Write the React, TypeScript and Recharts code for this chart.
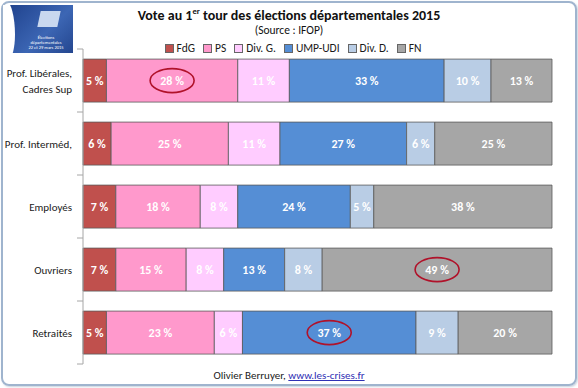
import React from 'react';
import { BarChart, Bar, XAxis, YAxis, LabelList } from 'recharts';

const categories = ['Prof. Libérales,\nCadres Sup', 'Prof. Interméd,', 'Employés', 'Ouvriers', 'Retraités'];
const fdg = [5, 6, 7, 7, 5];
const ps = [28, 25, 18, 15, 23];
const divG = [11, 11, 8, 8, 6];
const umpUdi = [33, 27, 24, 13, 37];
const divD = [10, 6, 5, 8, 9];
const fn = [13, 25, 38, 49, 20];

const seriesNames = ['FdG', 'PS', 'Div. G.', 'UMP-UDI', 'Div. D.', 'FN'];
const seriesKeys = ['fdg', 'ps', 'divG', 'umpUdi', 'divD', 'fn'];
const seriesValues = [fdg, ps, divG, umpUdi, divD, fn];
const colors = ['#C0504D', '#FF99CC', '#FFCCFF', '#558ED5', '#B9CDE5', '#A6A6A6'];

// cells circled in red: [series key, category index]
const highlights: [string, number][] = [['ps', 0], ['fn', 3], ['umpUdi', 4]];

const data = categories.map((cat, i) => {
    const row: Record<string, string | number> = { cat };
    seriesKeys.forEach((k, j) => (row[k] = seriesValues[j][i]));
    return row;
});

const FONT = "Carlito, 'Liberation Sans Narrow', 'Open Sans', sans-serif";
const BAND = 63;
const AXIS_X = 83;

const CatTick = (props: any) => {
    const { y, payload, index } = props;
    const lines = String(payload.value).split('\n');
    const tx = AXIS_X - 11;
    return (
        <g>
            <line x1={AXIS_X - 6} x2={AXIS_X} y1={y - BAND / 2} y2={y - BAND / 2} stroke="#A6A6A6" />
            {index === categories.length - 1 && (
                <line x1={AXIS_X - 6} x2={AXIS_X} y1={y + BAND / 2} y2={y + BAND / 2} stroke="#A6A6A6" />
            )}
            <text x={tx} y={y} textAnchor="end" fontSize={11} fill="#1a1a1a" fontFamily={FONT}>
                {lines.map((l, i) => (
                    <tspan key={i} x={tx} dy={i === 0 ? (lines.length === 1 ? 4 : -4) : 16}>
                        {l}
                    </tspan>
                ))}
            </text>
        </g>
    );
};

const makeLabel = (key: string) => (props: any) => {
    const { x, y, width, height, value, index } = props;
    const cx = x + width / 2;
    const cy = y + height / 2;
    const circled = highlights.some(([k, i]) => k === key && i === index);
    return (
        <g>
            {circled && (
                <ellipse cx={cx} cy={cy} rx={22} ry={12} fill="none" stroke="#B0122A" strokeWidth={1.6} />
            )}
            <text x={cx} y={cy + 4} textAnchor="middle" fontSize={12} fontWeight="bold" fill="#fff" fontFamily={FONT}>
                {value} %
            </text>
        </g>
    );
};

const LegendBox = () => (
    <div
        style={{
            position: 'absolute',
            top: 41,
            left: 0,
            width: 578,
            display: 'flex',
            justifyContent: 'center',
            gap: 8,
            fontFamily: FONT,
            fontSize: 11.5,
            color: '#1a1a1a',
            paddingLeft: 8,
            boxSizing: 'border-box',
        }}
    >
        {seriesNames.map((n, i) => (
            <span key={n} style={{ display: 'flex', alignItems: 'center' }}>
                <span
                    style={{
                        display: 'inline-block',
                        width: 7,
                        height: 7,
                        background: colors[i],
                        border: '1px solid #666',
                        marginRight: 3,
                    }}
                />
                {n}
            </span>
        ))}
    </div>
);

const App: React.FC = () => {
    return (
        <div style={{ position: 'absolute', left: 0, top: 0, width: 578, height: 388, background: '#fff', fontFamily: FONT }}>
            {/* frame */}
            <div
                style={{
                    position: 'absolute',
                    left: 1,
                    top: 1,
                    width: 572,
                    height: 381,
                    border: '2px solid #9FB4CE',
                    borderRadius: 8,
                    boxShadow: '1px 1px 2px #c8d2de',
                }}
            />

            {/* logo */}
            <div
                style={{
                    position: 'absolute',
                    left: 3,
                    top: 5,
                    width: 70,
                    height: 48,
                    background: 'linear-gradient(135deg, #1d3f8a 0%, #3c66b4 60%, #24468f 100%)',
                    color: '#fff',
                    fontSize: 4.5,
                    lineHeight: '5px',
                    textAlign: 'center',
                    overflow: 'hidden',
                }}
            >
                <div style={{ position: 'absolute', left: -4, top: -4, width: 16, height: 58, background: '#fff', borderRadius: '0 70% 50% 0' }} />
                <div style={{ position: 'absolute', left: 36, top: 6, width: 20, height: 16, background: '#c9d8ef', transform: 'skewX(-12deg)' }} />
                <div style={{ position: 'absolute', left: 16, top: 30, width: 54 }}>
                    Élections<br />départementales<br />22 et 29 mars 2015
                </div>
            </div>

            {/* titles */}
            <div style={{ position: 'absolute', top: 5, left: 0, width: 578, textAlign: 'center' }}>
                <span style={{ fontSize: 14, fontWeight: 'bold', color: '#111' }}>
                    Vote au 1<sup style={{ fontSize: 8.5 }}>er</sup> tour des élections départementales 2015
                </span>
            </div>
            <div style={{ position: 'absolute', top: 23, left: 0, width: 578, textAlign: 'center', fontSize: 11.5, color: '#111' }}>
                (Source : IFOP)
            </div>

            <LegendBox />

            <BarChart
                width={578}
                height={388}
                data={data}
                layout="vertical"
                barCategoryGap="16%"
                margin={{ top: 49, right: 26, bottom: 24, left: 0 }}
                style={{ position: 'absolute', left: 0, top: 0 }}
            >
                <XAxis type="number" domain={[0, 100]} hide />
                <YAxis
                    type="category"
                    dataKey="cat"
                    width={AXIS_X}
                    tickLine={false}
                    axisLine={{ stroke: '#A6A6A6' }}
                    tick={<CatTick />}
                    interval={0}
                />
                {seriesKeys.map((k, i) => (
                    <Bar
                        key={k}
                        dataKey={k}
                        name={seriesNames[i]}
                        stackId="a"
                        fill={colors[i]}
                        stroke="#5a5a5a"
                        strokeWidth={0.8}
                        isAnimationActive={false}
                    >
                        <LabelList dataKey={k} content={makeLabel(k)} />
                    </Bar>
                ))}
            </BarChart>

            {/* footer */}
            <div style={{ position: 'absolute', top: 369, left: 0, width: 578, textAlign: 'center', fontSize: 11, color: '#1a1a1a' }}>
                Olivier Berruyer, <span style={{ color: '#2f2fb4', textDecoration: 'underline' }}>www.les-crises.fr</span>
            </div>
        </div>
    );
};

export default App;
